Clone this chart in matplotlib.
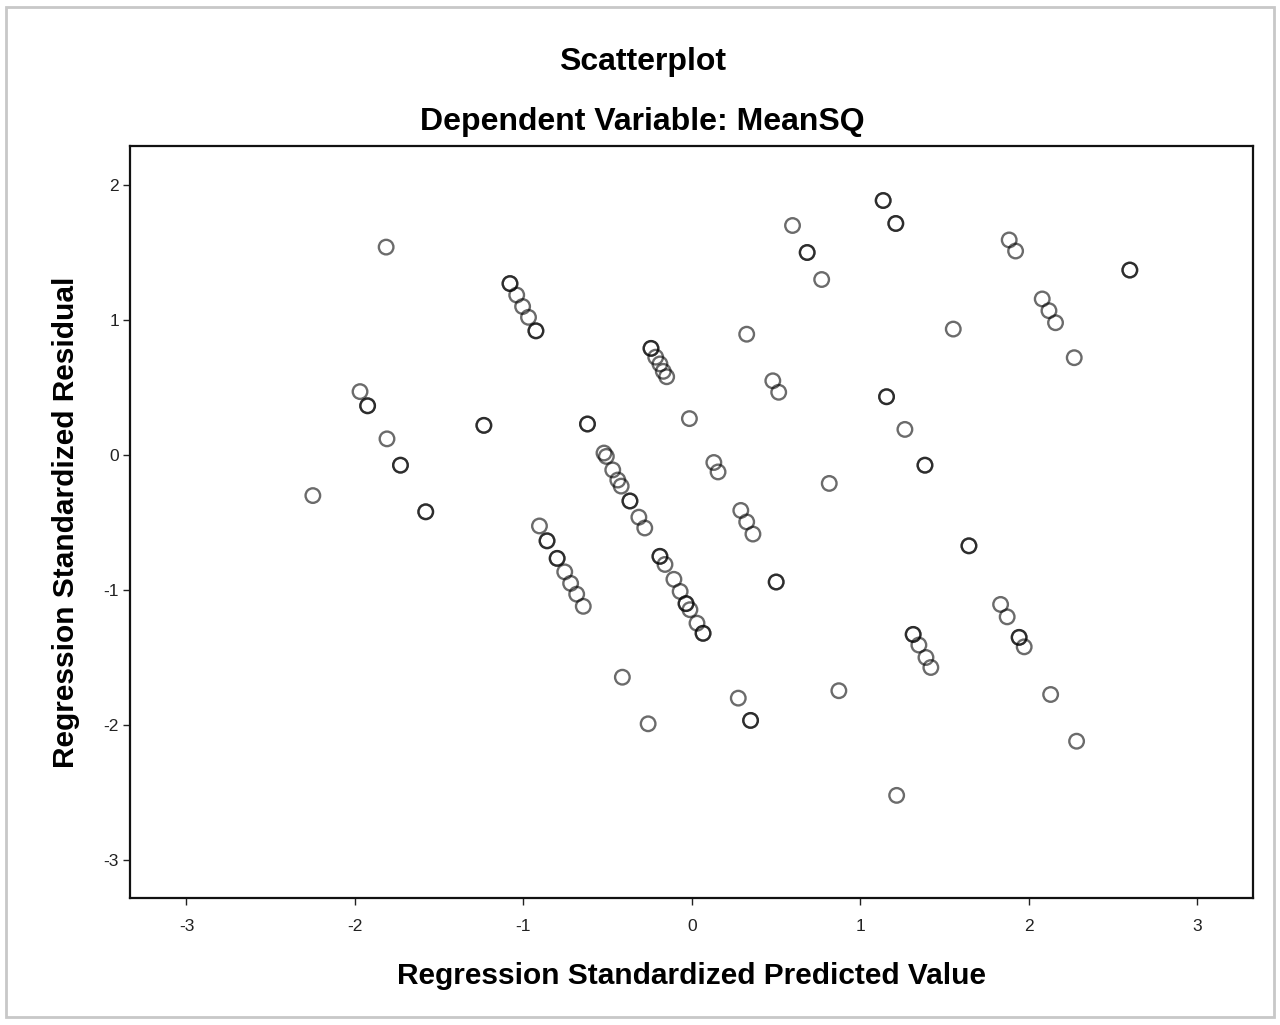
#!/usr/bin/env python3
import matplotlib
matplotlib.use('Agg')
from matplotlib import pyplot as plt
from matplotlib.patches import Rectangle

plt.rcParams['font.family'] = ['Liberation Sans', 'DejaVu Sans']

##### DATA
# repeated pairs are cases that sit on top of each other (darker rings)
pred = [-2.25, -1.97, -1.925, -1.925, -1.815, -1.81, -1.73, -1.73, -1.58, -1.58,
        -1.235, -1.235,
        -1.08, -1.08, -1.04, -1.005, -0.97, -0.926, -0.926,
        -0.62, -0.62,
        -0.522, -0.508, -0.47, -0.44, -0.42, -0.368, -0.368, -0.315, -0.28,
        -0.243, -0.243, -0.215, -0.19, -0.17, -0.15,
        -0.015, 0.13, 0.155, 0.29, 0.325, 0.362, 0.325, 0.48, 0.515, 0.50, 0.50,
        -0.905, -0.86, -0.86, -0.80, -0.80, -0.755, -0.72, -0.684, -0.645,
        -0.19, -0.19, -0.16, -0.107, -0.07, -0.035, -0.035, -0.012, 0.03, 0.066, 0.066,
        -0.413, -0.26, 0.275, 0.348, 0.348,
        0.597, 0.684, 0.684, 0.77, 0.815, 0.872,
        1.135, 1.135, 1.21, 1.21, 1.155, 1.155, 1.264, 1.383, 1.383,
        1.551, 1.644, 1.644,
        1.313, 1.313, 1.347, 1.389, 1.418, 1.215,
        1.883, 1.921, 2.079, 2.119, 2.158, 2.269, 2.599, 2.599,
        1.832, 1.871, 1.942, 1.942, 1.972, 2.129, 2.283]
resid = [-0.30, 0.47, 0.365, 0.365, 1.54, 0.12, -0.075, -0.075, -0.42, -0.42,
         0.22, 0.22,
         1.27, 1.27, 1.185, 1.10, 1.02, 0.92, 0.92,
         0.23, 0.23,
         0.015, -0.01, -0.11, -0.185, -0.23, -0.34, -0.34, -0.46, -0.54,
         0.79, 0.79, 0.725, 0.675, 0.62, 0.58,
         0.27, -0.055, -0.125, -0.41, -0.495, -0.585, 0.895, 0.55, 0.465, -0.94, -0.94,
         -0.525, -0.635, -0.635, -0.765, -0.765, -0.865, -0.95, -1.03, -1.12,
         -0.75, -0.75, -0.81, -0.92, -1.01, -1.10, -1.10, -1.145, -1.245, -1.32, -1.32,
         -1.645, -1.99, -1.80, -1.965, -1.965,
         1.70, 1.50, 1.50, 1.30, -0.21, -1.745,
         1.885, 1.885, 1.715, 1.715, 0.432, 0.432, 0.19, -0.075, -0.075,
         0.933, -0.672, -0.672,
         -1.328, -1.328, -1.407, -1.499, -1.573, -2.52,
         1.593, 1.511, 1.156, 1.069, 0.980, 0.721, 1.370, 1.370,
         -1.106, -1.198, -1.350, -1.350, -1.420, -1.773, -2.119]

x_ticks = [-3, -2, -1, 0, 1, 2, 3]
y_ticks = [-3, -2, -1, 0, 1, 2]
##############

fig = plt.figure(figsize=(12.8, 10.25), dpi=100)
ax = fig.add_axes([0.1016, 0.1239, 0.8773, 0.7337])

# open rings, semi transparent so overlapping cases get darker
ax.scatter(pred, resid, s=110, facecolors='none', edgecolors='black',
           linewidths=1.7, alpha=0.58)

ax.set_xlim(-3.335, 3.33)
ax.set_ylim(-3.28, 2.289)
ax.set_xticks(x_ticks)
ax.set_yticks(y_ticks)
ax.set_xticklabels([str(t) for t in x_ticks])
ax.set_yticklabels([str(t) for t in y_ticks])
ax.tick_params(direction='out', length=5, width=1, colors='#222222',
               labelsize=12.5)
ax.tick_params(axis='x', pad=10)
ax.tick_params(axis='y', pad=3)

for sp in ax.spines.values():
    sp.set_linewidth(1.6)
    sp.set_color('#111111')

ax.set_xlabel('Regression Standardized Predicted Value', fontsize=21.5,
              fontweight='bold', labelpad=20)
ax.set_ylabel('Regression Standardized Residual', fontsize=21.5,
              fontweight='bold', labelpad=17)

# titles
fig.text(0.502, 1 - 62 / 1025, 'Scatterplot', ha='center', va='center',
         fontsize=23, fontweight='bold')
fig.text(0.502, 1 - 122 / 1025, 'Dependent Variable: MeanSQ', ha='center',
         va='center', fontsize=23, fontweight='bold')

# light frame round the whole picture
fig.patches.append(Rectangle((0.005, 0.008), 0.99, 0.985, transform=fig.transFigure,
                             fill=False, edgecolor='#c8c8c8', linewidth=2))

fig.savefig('out.png', dpi=100, facecolor='w')
